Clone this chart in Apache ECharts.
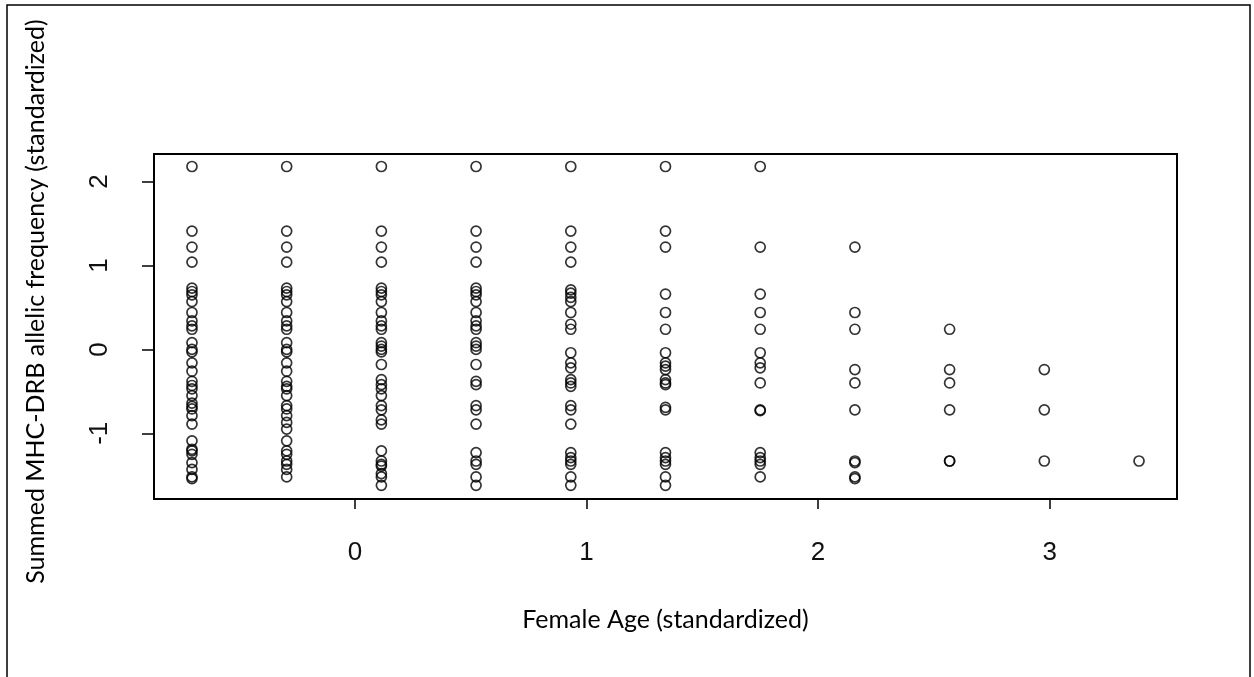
<!DOCTYPE html>
<html>
<head>
<meta charset="utf-8">
<script src="https://cdn.jsdelivr.net/npm/echarts@6/dist/echarts.min.js"></script>
<style>
html,body{margin:0;padding:0;background:#fff;}
#chart{width:1254px;height:677px;}
</style>
</head>
<body>
<div id="chart"></div>
<script>
// Female age (standardized) for each column of points
var ageValues = [-0.704, -0.295, 0.114, 0.523, 0.932, 1.341, 1.750, 2.159, 2.568, 2.977, 3.386];

// Summed MHC-DRB allelic frequency (standardized), one list per age column
var freqAge1 = [2.18, 1.41, 1.22, 1.04, 0.73, 0.69, 0.65, 0.57, 0.44, 0.34, 0.28, 0.24, 0.08, 0.0, -0.03, -0.16, -0.26, -0.38, -0.43, -0.47, -0.55, -0.64, -0.68, -0.71, -0.79, -0.89, -1.09, -1.19, -1.21, -1.25, -1.35, -1.43, -1.52, -1.54];
var freqAge2 = [2.18, 1.41, 1.22, 1.04, 0.73, 0.69, 0.65, 0.57, 0.44, 0.34, 0.28, 0.24, 0.08, 0.0, -0.03, -0.16, -0.26, -0.38, -0.44, -0.47, -0.55, -0.67, -0.71, -0.79, -0.87, -0.95, -1.09, -1.21, -1.25, -1.33, -1.37, -1.43, -1.52];
var freqAge3 = [2.18, 1.41, 1.22, 1.04, 0.73, 0.69, 0.65, 0.57, 0.44, 0.34, 0.28, 0.24, 0.08, 0.04, 0.0, -0.03, -0.18, -0.36, -0.42, -0.47, -0.55, -0.67, -0.72, -0.84, -0.89, -1.21, -1.33, -1.37, -1.39, -1.48, -1.52, -1.62];
var freqAge4 = [2.18, 1.41, 1.22, 1.04, 0.73, 0.69, 0.65, 0.57, 0.44, 0.34, 0.28, 0.24, 0.08, 0.04, 0.0, -0.18, -0.38, -0.42, -0.67, -0.72, -0.89, -1.23, -1.33, -1.37, -1.52, -1.62];
var freqAge5 = [2.18, 1.41, 1.22, 1.04, 0.71, 0.67, 0.62, 0.57, 0.44, 0.30, 0.24, -0.04, -0.16, -0.22, -0.36, -0.40, -0.44, -0.67, -0.72, -0.89, -1.23, -1.29, -1.33, -1.37, -1.52, -1.62];
var freqAge6 = [2.18, 1.41, 1.22, 0.66, 0.44, 0.24, -0.04, -0.16, -0.20, -0.24, -0.36, -0.40, -0.42, -0.69, -0.72, -1.23, -1.29, -1.33, -1.37, -1.52, -1.62];
var freqAge7 = [2.18, 1.22, 0.66, 0.44, 0.24, -0.04, -0.16, -0.22, -0.40, -0.72, -0.73, -1.23, -1.29, -1.33, -1.37, -1.52];
var freqAge8 = [1.22, 0.44, 0.24, -0.24, -0.40, -0.72, -1.33, -1.35, -1.52, -1.54];
var freqAge9 = [0.24, -0.24, -0.40, -0.72, -1.33, -1.33];
var freqAge10 = [-0.24, -0.72, -1.33];
var freqAge11 = [-1.33];

var xTicks = [0, 1, 2, 3];
var yTicks = [-1, 0, 1, 2];

var xTitle = 'Female Age (standardized)';
var yTitle = 'Summed MHC-DRB allelic frequency (standardized)';

var columns = [freqAge1, freqAge2, freqAge3, freqAge4, freqAge5, freqAge6, freqAge7, freqAge8, freqAge9, freqAge10, freqAge11];
var points = [];
columns.forEach(function (col, i) {
  col.forEach(function (v) { points.push([ageValues[i], v]); });
});

var chart = echarts.init(document.getElementById('chart'), null, {renderer: 'canvas'});
chart.setOption({
  animation: false,
  backgroundColor: '#fff',
  graphic: [{
    type: 'rect',
    shape: {x: 7, y: 5, width: 1243, height: 690},
    style: {fill: 'none', stroke: '#000', lineWidth: 1.5},
    silent: true
  }],
  grid: {
    left: 154, right: 77, top: 154, bottom: 178,
    show: true, borderColor: '#000', borderWidth: 2, backgroundColor: 'transparent'
  },
  xAxis: {
    type: 'value',
    min: -0.868, max: 3.55,
    splitLine: {show: false},
    axisLine: {show: false, onZero: false},
    axisTick: {show: true, customValues: xTicks, length: 10, lineStyle: {color: '#000', width: 1.5}},
    axisLabel: {customValues: xTicks, margin: 41, fontFamily: 'Liberation Sans Narrow, Liberation Sans', fontSize: 26, color: '#111'},
    name: xTitle, nameLocation: 'middle', nameGap: 108,
    nameTextStyle: {fontFamily: 'Lato', fontSize: 25, color: '#000'}
  },
  yAxis: {
    type: 'value',
    min: -1.783, max: 2.329,
    splitLine: {show: false},
    axisLine: {show: false, onZero: false},
    axisTick: {show: true, customValues: yTicks, length: 12, lineStyle: {color: '#000', width: 1.5}},
    axisLabel: {customValues: yTicks, rotate: 90, margin: 41, fontFamily: 'Liberation Sans Narrow, Liberation Sans', fontSize: 26, color: '#111'},
    name: yTitle, nameLocation: 'middle', nameGap: 106,
    nameTextStyle: {fontFamily: 'Lato', fontSize: 25, color: '#000', padding: [0, 0, 0, 50]}
  },
  series: [{
    type: 'scatter',
    data: points,
    symbol: 'circle',
    symbolSize: 10,
    itemStyle: {color: 'rgba(0,0,0,0)', borderColor: '#000', borderWidth: 1.7},
    emphasis: {disabled: true}
  }]
});
</script>
</body>
</html>
